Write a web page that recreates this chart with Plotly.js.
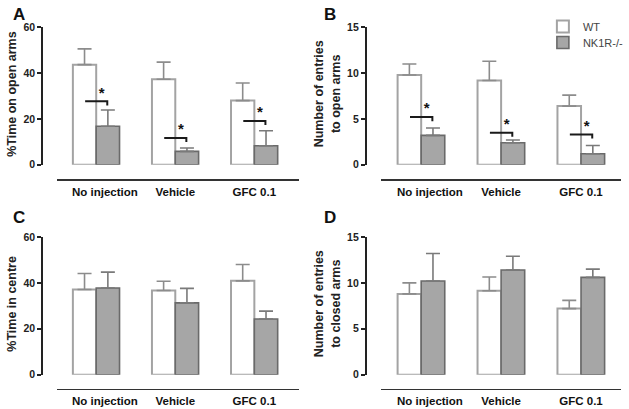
<!DOCTYPE html>
<html>
<head>
<meta charset="utf-8">
<script src="https://cdn.plot.ly/plotly-3.0.1.min.js"></script>
<style>html,body{margin:0;padding:0;background:#fff;}#chart{width:629px;height:409px;}</style>
</head>
<body>
<div id="chart"></div>
<script>
// ---- data ----
const categories = ["No injection", "Vehicle", "GFC 0.1"];
const seriesNames = ["WT", "NK1R-/-"];
const panelLetters = ["A", "B", "C", "D"];
const yTitles = ["%Time on open arms", "Number of entries<br>to open arms", "%Time in centre", "Number of entries<br>to closed arms"];
const yTicksPct = [0, 20, 40, 60];
const yTicksCount = [0, 5, 10, 15];

// A: % time on open arms
const wtOpenTime = [43.7, 37.3, 28.0];
const wtOpenTimeSem = [6.9, 7.5, 7.7];
const koOpenTime = [16.8, 5.8, 8.3];
const koOpenTimeSem = [7.1, 1.5, 6.5];
const sigOpenTime = [27.7, 11.7, 19.1];

// B: entries to open arms
const wtOpenEntries = [9.8, 9.2, 6.4];
const wtOpenEntriesSem = [1.2, 2.1, 1.2];
const koOpenEntries = [3.2, 2.4, 1.2];
const koOpenEntriesSem = [0.8, 0.3, 0.9];
const sigOpenEntries = [5.2, 3.5, 3.3];

// C: % time in centre
const wtCentre = [37.1, 36.7, 40.9];
const wtCentreSem = [7.0, 4.0, 7.1];
const koCentre = [37.8, 31.3, 24.3];
const koCentreSem = [6.9, 6.3, 3.4];

// D: entries to closed arms
const wtClosed = [8.8, 9.15, 7.2];
const wtClosedSem = [1.2, 1.5, 0.9];
const koClosed = [10.2, 11.4, 10.6];
const koClosedSem = [3.0, 1.5, 0.9];

// ---- build ----
const FONT = '"Liberation Sans", Arial, sans-serif';
const idx = categories.map((_, i) => i);
const zeros = categories.map(() => 0);
// label placement as in the original figure (first label sits slightly right of its group)
const labelShift = [0.11, 0, 0];

const panels = [
  {wt: wtOpenTime, wtE: wtOpenTimeSem, ko: koOpenTime, koE: koOpenTimeSem, sig: sigOpenTime, drop: 1.8, ticks: yTicksPct, max: 60},
  {wt: wtOpenEntries, wtE: wtOpenEntriesSem, ko: koOpenEntries, koE: koOpenEntriesSem, sig: sigOpenEntries, drop: 0.45, ticks: yTicksCount, max: 15},
  {wt: wtCentre, wtE: wtCentreSem, ko: koCentre, koE: koCentreSem, sig: null, ticks: yTicksPct, max: 60},
  {wt: wtClosed, wtE: wtClosedSem, ko: koClosed, koE: koClosedSem, sig: null, ticks: yTicksCount, max: 15}
];

const W = 629, H = 409;
const geo = [
  {x0: 57.3, x1: 302, yax: 42.7, ytop: 27.3, ybot: 164.7, xline: 179.3, range: [-0.5, 2.56]},
  {x0: 385.5, x1: 628, yax: 370, ytop: 27.3, ybot: 164.7, xline: 179.3, range: [-0.5, 2.5]},
  {x0: 57.3, x1: 302, yax: 42.7, ytop: 237, ybot: 374.7, xline: 388.5, range: [-0.5, 2.56]},
  {x0: 385.5, x1: 628, yax: 370, ytop: 237, ybot: 374.7, xline: 388.5, range: [-0.5, 2.5]}
];

const traces = [];
const legendBase = {xanchor: 'left', yanchor: 'top',
  font: {family: FONT, size: 11, color: '#444'}, bgcolor: 'rgba(0,0,0,0)', tracegroupgap: 0};
const layout = {
  width: W, height: H,
  margin: {l: 0, r: 0, t: 0, b: 0},
  paper_bgcolor: '#fff', plot_bgcolor: 'rgba(0,0,0,0)',
  barmode: 'group', bargap: 0.41, bargroupgap: 0,
  font: {family: FONT, color: '#222'},
  showlegend: true,
  legend: Object.assign({x: 549 / W, y: 1 - 12 / H}, legendBase),
  legend2: Object.assign({x: 549 / W, y: 1 - 28 / H}, legendBase),
  annotations: [], shapes: []
};

panels.forEach((p, k) => {
  const n = k === 0 ? '' : String(k + 1);
  const xa = 'x' + n, ya = 'y' + n;
  const g = geo[k];
  traces.push({
    type: 'bar', name: seriesNames[0], x: idx, y: p.wt, xaxis: xa, yaxis: ya,
    marker: {color: '#ffffff', line: {color: '#a3a3a3', width: 2}},
    error_y: {type: 'data', symmetric: false, array: p.wtE, arrayminus: zeros, color: '#8c8c8c', thickness: 1.6, width: 7},
    showlegend: k === 0, legend: 'legend', hoverinfo: 'skip'
  });
  traces.push({
    type: 'bar', name: seriesNames[1], x: idx, y: p.ko, xaxis: xa, yaxis: ya,
    marker: {color: '#a6a6a6', line: {color: '#6a6a6a', width: 1.6}},
    error_y: {type: 'data', symmetric: false, array: p.koE, arrayminus: zeros, color: '#7a7a7a', thickness: 1.6, width: 7},
    showlegend: k === 0, legend: 'legend2', hoverinfo: 'skip'
  });
  if (p.sig) {
    const bx = [], by = [];
    p.sig.forEach((h, i) => {
      bx.push(i - 0.14, i + 0.14, i + 0.14, null);
      by.push(h, h, h - p.drop, null);
    });
    traces.push({type: 'scatter', mode: 'lines', x: bx, y: by, xaxis: xa, yaxis: ya,
      line: {color: '#1a1a1a', width: 2}, showlegend: false, hoverinfo: 'skip', cliponaxis: false});
    traces.push({type: 'scatter', mode: 'text', x: idx.map(i => i + 0.07), y: p.sig, xaxis: xa, yaxis: ya,
      text: p.sig.map(() => '*'), textposition: 'top center',
      textfont: {family: FONT, size: 15, color: '#111', weight: 'bold'},
      showlegend: false, hoverinfo: 'skip', cliponaxis: false});
  }
  layout['xaxis' + n] = {
    domain: [g.x0 / W, g.x1 / W], anchor: 'free', position: 1 - g.xline / H,
    range: g.range, tickvals: idx.map(i => i + labelShift[i]), ticktext: categories,
    showline: true, linecolor: '#333', linewidth: 1.5,
    ticks: 'outside', ticklen: 1, tickcolor: 'rgba(0,0,0,0)',
    tickfont: {family: FONT, size: 11.5, color: '#111', weight: 'bold'},
    showgrid: false, zeroline: false, fixedrange: true
  };
  layout['yaxis' + n] = {
    domain: [1 - g.ybot / H, 1 - g.ytop / H], anchor: 'free', position: g.yax / W,
    range: [0, p.max], tickvals: p.ticks,
    showline: true, linecolor: '#222', linewidth: 2,
    ticks: 'outside', ticklen: 4, tickwidth: 2, tickcolor: '#222',
    tickfont: {family: FONT, size: 10.5, color: '#222', weight: 'bold'},
    showgrid: false, zeroline: false, fixedrange: true
  };
  // panel letter
  layout.annotations.push({
    xref: 'paper', yref: 'paper', x: (k % 2 === 0 ? 11 : 326) / W, y: 1 - (k < 2 ? 3 : 206) / H,
    xanchor: 'left', yanchor: 'top', showarrow: false, text: panelLetters[k],
    font: {family: FONT, size: 17, color: '#111', weight: 'bold'}
  });
  // y title
  layout.annotations.push({
    xref: 'paper', yref: 'paper',
    x: (k % 2 === 0 ? 12 : 331) / W, y: 1 - ((g.ytop + g.ybot) / 2 - 2) / H,
    xanchor: 'center', yanchor: 'middle', textangle: -90, showarrow: false,
    text: yTitles[k],
    font: {family: FONT, size: 12.5, color: '#222', weight: 'bold'}
  });
});

Plotly.newPlot('chart', traces, layout, {displayModeBar: false, staticPlot: true});
</script>
</body>
</html>
